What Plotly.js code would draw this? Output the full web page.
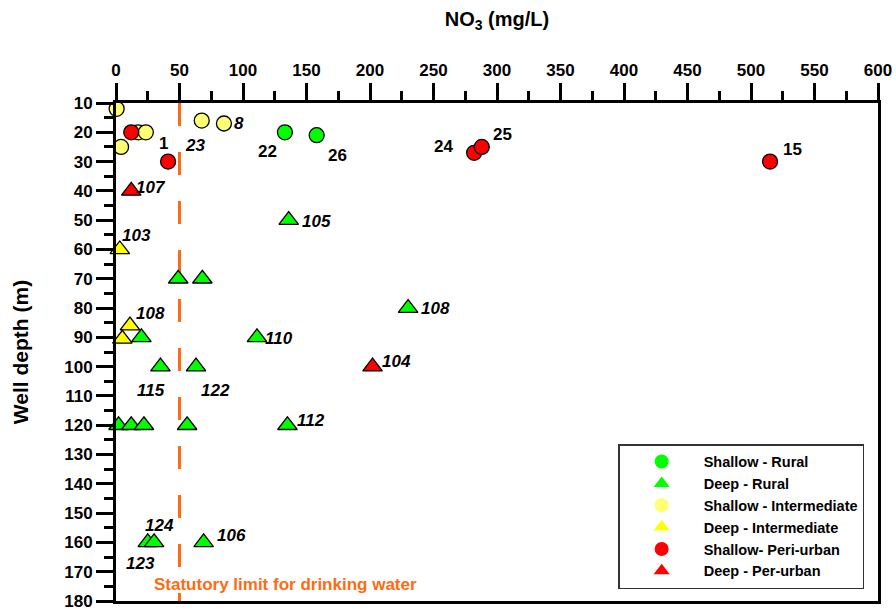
<!DOCTYPE html>
<html>
<head>
<meta charset="utf-8">
<script src="https://cdn.plot.ly/plotly-3.0.1.min.js"></script>
<style>html,body{margin:0;padding:0;background:#fff;}#chart{width:896px;height:609px;}</style>
</head>
<body>
<div id="chart"></div>
<script>
// ---- data (NO3 mg/L, well depth m) ----
var shallowRuralX = [133, 158];
var shallowRuralY = [20, 21];

var deepRuralX = [136, 49, 68, 230, 20, 111, 35, 63, 2, 12, 22, 56, 135, 25, 30, 69];
var deepRuralY = [50, 70, 70, 80, 90, 90, 100, 100, 120, 120, 120, 120, 120, 160, 160, 160];

var shallowInterX = [0.5, 67.5, 85, 17.5, 23.5, 4];
var shallowInterY = [12, 16, 17, 20, 20, 25];

var deepInterX = [3, 11, 5];
var deepInterY = [60, 86, 90.5];

var shallowPeriX = [12, 41, 282, 288, 515];
var shallowPeriY = [20, 30, 27, 25, 30];

var deepPeriX = [12, 202];
var deepPeriY = [40, 100];

var statutoryLimit = 50;

// well-id labels
var labelText = ['107','105','103','108','108','110','104','115','122','112','124','123','106','8','1','23','22','26','24','25','15'];
var labelX    = [27.5, 157.5, 16.5, 27.5, 251.5, 128, 220.5, 27.5, 78.5, 153.5, 34.5, 19, 91, 97, 37.5, 62.5, 119.5, 174.5, 258, 304.5, 532.5];
var labelY    = [38.7, 50.6, 55.3, 82, 80.3, 90.5, 98.2, 108.1, 108.1, 118.3, 154.2, 167.2, 157.7, 17.1, 23.9, 24.6, 26.6, 27.9, 24.8, 20.7, 25.8];
var labelItal = [1,1,1,1,1,1,1,1,1,1,1,1,1,1,0,1,0,0,0,0,0];

var xRange = [0, 600], xMajor = 50, xMinor = 25;
var yRange = [180, 10], yMajor = 10, yMinor = 5;

// ---- styling ----
var FONT = 'Arial, "Liberation Sans", sans-serif';
var GREEN = '#00FF00', LYEL = '#FFFF73', YEL = '#FFFF00', RED = '#FF0000';

var names = ['Shallow - Rural', 'Deep - Rural', 'Shallow - Intermediate', 'Deep - Intermediate', 'Shallow- Peri-urban', 'Deep - Per-urban'];
var xs = [shallowRuralX, deepRuralX, shallowInterX, deepInterX, shallowPeriX, deepPeriX];
var ys = [shallowRuralY, deepRuralY, shallowInterY, deepInterY, shallowPeriY, deepPeriY];
var syms = ['circle', 'triangle-up', 'circle', 'triangle-up', 'circle', 'triangle-up'];
var cols = [GREEN, GREEN, LYEL, YEL, RED, RED];

var data = [];
names.forEach(function (n, i) {
  var tri = syms[i] === 'triangle-up';
  data.push({
    type: 'scatter', mode: 'markers', name: n, x: xs[i], y: ys[i],
    cliponaxis: false, showlegend: false,
    marker: {symbol: syms[i], color: cols[i], size: tri ? 17 : 15, line: {color: '#000', width: 1.3}}
  });
});
// legend entries (markers without outline, as in the reference legend)
names.forEach(function (n, i) {
  data.push({
    type: 'scatter', mode: 'markers', name: n, x: [null], y: [null],
    legendgroup: 'g' + i, showlegend: true,
    marker: {symbol: syms[i], color: cols[i], size: 14, line: {width: 0}}
  });
});

var annotations = labelText.map(function (t, i) {
  return {
    x: labelX[i], y: labelY[i], xref: 'x', yref: 'y', text: t, showarrow: false,
    xanchor: 'center', yanchor: 'middle',
    font: {family: FONT, size: 17, color: '#000', weight: 'bold', style: labelItal[i] ? 'italic' : 'normal'}
  };
});
annotations.push({
  x: 133.5, y: 174.4, xref: 'x', yref: 'y', text: 'Statutory limit for drinking water',
  showarrow: false, xanchor: 'center', yanchor: 'middle',
  font: {family: FONT, size: 17, color: '#FF6A13', weight: 'bold'}
});

function axisCommon(range, major, minor) {
  return {
    range: range, tickmode: 'linear', dtick: major, tick0: 0,
    showgrid: false, zeroline: false, showline: true, linewidth: 3, linecolor: '#000', mirror: true,
    ticks: 'outside', ticklen: 17, tickwidth: 3, tickcolor: '#000',
    minor: {tickmode: 'linear', dtick: minor, tick0: 0, ticks: 'outside', ticklen: 9, tickwidth: 3, tickcolor: '#000', showgrid: false},
    tickfont: {family: FONT, size: 17, weight: 'bold', color: '#000'},
    ticklabeloverflow: 'allow',
    automargin: false
  };
}

var xaxis = axisCommon(xRange, xMajor, xMinor);
xaxis.side = 'top';
xaxis.title = {text: 'NO<sub>3</sub> (mg/L)', font: {family: FONT, size: 20, weight: 'bold'}, standoff: 30};

var yaxis = axisCommon(yRange, yMajor, yMinor);
yaxis.title = {text: 'Well depth (m)', font: {family: FONT, size: 21, weight: 'bold'}, standoff: 30};

var layout = {
  width: 896, height: 609,
  margin: {l: 116, r: 18, t: 103, b: 8},
  paper_bgcolor: '#fff', plot_bgcolor: '#fff',
  font: {family: FONT, color: '#000'},
  showlegend: true,
  xaxis: xaxis,
  yaxis: yaxis,
  shapes: [{
    type: 'line', xref: 'x', yref: 'y', x0: statutoryLimit, x1: statutoryLimit, y0: 10, y1: 180,
    layer: 'below', line: {color: '#FF6A13', width: 3, dash: '23px,26px'}
  }],
  annotations: annotations,
  legend: {
    x: 0.659, y: 0.315, xanchor: 'left', yanchor: 'top',
    bgcolor: '#fff', bordercolor: '#333', borderwidth: 1.5,
    font: {family: FONT, size: 14.5, weight: 'bold', color: '#000'},
    itemwidth: 74, traceorder: 'grouped', tracegroupgap: 0
  }
};

Plotly.newPlot('chart', data, layout, {displayModeBar: false, staticPlot: true});
</script>
</body>
</html>
